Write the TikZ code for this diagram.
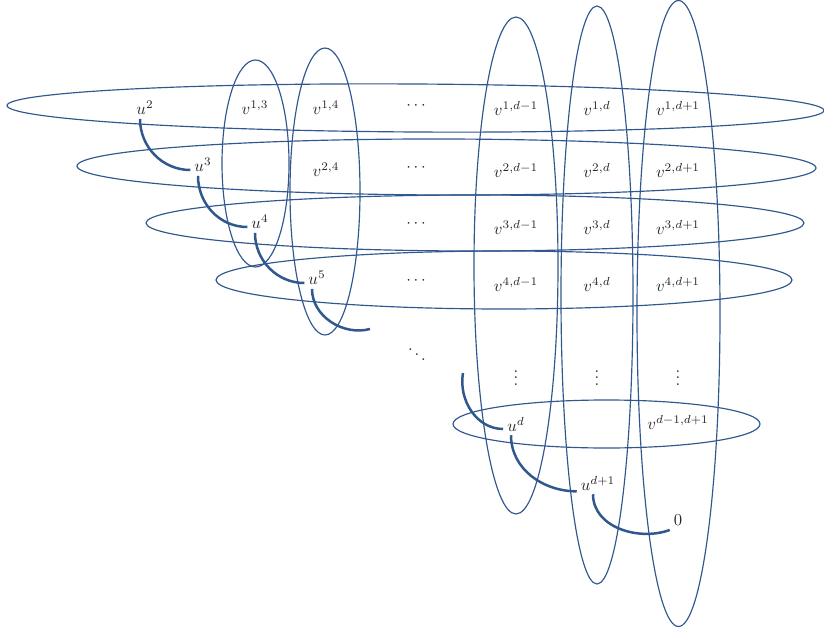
\documentclass[tikz,border=0pt]{standalone}
\begin{document}
\begin{tikzpicture}[x=0.6pt,y=0.6pt,
  ecol/.style={draw=blue!45!black!70!cyan!80, line width=0.65pt},
  arc/.style={draw=ecolor, line width=1.5pt},
  lab/.style={inner sep=0pt, outer sep=2.5pt, text=black!85}]
\definecolor{ecolor}{RGB}{49,88,142}
\tikzset{ell/.style={draw=ecolor, line width=0.7pt}}
\useasboundingbox (0,0) rectangle (824,-635);
% row ellipses
\draw[ell, rotate around={-0.35:(415.5,-108)}] (415.5,-108) ellipse [x radius=408.5*0.6pt, y radius=24*0.6pt];
\draw[ell, rotate around={-0.15:(446.5,-167)}] (446.5,-167) ellipse [x radius=369.5*0.6pt, y radius=28*0.6pt];
\draw[ell] (475,-223) ellipse [x radius=329*0.6pt, y radius=28*0.6pt];
\draw[ell] (504,-280) ellipse [x radius=288*0.6pt, y radius=29*0.6pt];
\draw[ell] (606.5,-424) ellipse [x radius=153.5*0.6pt, y radius=24*0.6pt];
% column ellipses
\draw[ell] (255.5,-163.5) ellipse [x radius=33.5*0.6pt, y radius=103.5*0.6pt];
\draw[ell] (325,-191.5) ellipse [x radius=35*0.6pt, y radius=143.5*0.6pt];
\draw[ell] (516,-265.5) ellipse [x radius=42*0.6pt, y radius=248.5*0.6pt];
\draw[ell] (597,-295) ellipse [x radius=36*0.6pt, y radius=289*0.6pt];
\draw[ell] (678.5,-313.5) ellipse [x radius=41.5*0.6pt, y radius=313*0.6pt];
% labels
\node[lab] (u2) at (145,-108) {$u^2$};
\node[lab] (v13) at (255,-108) {$v^{1,3}$};
\node[lab] (v14) at (326,-108) {$v^{1,4}$};
\node[lab] (c1) at (416,-106) {$\cdots$};
\node[lab] (v1a) at (516,-108) {$v^{1,d-1}$};
\node[lab] (v1b) at (597,-108) {$v^{1,d}$};
\node[lab] (v1c) at (678,-108) {$v^{1,d+1}$};
\node[lab] (u3) at (203,-165) {$u^3$};
\node[lab] (v24) at (326,-170) {$v^{2,4}$};
\node[lab] (c2) at (416,-168) {$\cdots$};
\node[lab] (v2a) at (516,-170) {$v^{2,d-1}$};
\node[lab] (v2b) at (597,-170) {$v^{2,d}$};
\node[lab] (v2c) at (678,-170) {$v^{2,d+1}$};
\node[lab] (u4) at (260,-222) {$u^4$};
\node[lab] (c3) at (416,-224) {$\cdots$};
\node[lab] (v3a) at (516,-227) {$v^{3,d-1}$};
\node[lab] (v3b) at (597,-227) {$v^{3,d}$};
\node[lab] (v3c) at (678,-227) {$v^{3,d+1}$};
\node[lab] (u5) at (317,-278) {$u^5$};
\node[lab] (c4) at (416,-281) {$\cdots$};
\node[lab] (v4a) at (516,-284) {$v^{4,d-1}$};
\node[lab] (v4b) at (597,-284) {$v^{4,d}$};
\node[lab] (v4c) at (678,-284) {$v^{4,d+1}$};
\node[lab] (dd) at (417,-350) {$\ddots$};
\node[lab] (vd1) at (516,-373) {$\vdots$};
\node[lab] (vd2) at (597,-373) {$\vdots$};
\node[lab] (vd3) at (678,-373) {$\vdots$};
\node[lab] (ud) at (516,-424) {$u^d$};
\node[lab] (vdd) at (678,-422) {$v^{d-1,d+1}$};
\node[lab] (ud1) at (598,-483) {$u^{d+1}$};
\node[lab] (zero) at (678,-520) {$0$};
\coordinate (f1) at (370,-329);
\coordinate (f2) at (463,-373);
% arcs
\draw[arc] ([xshift=-3]u2.south) to[out=-90,in=180] ([yshift=-3]u3.west);
\draw[arc] ([xshift=-3]u3.south) to[out=-90,in=180] ([yshift=-3]u4.west);
\draw[arc] ([xshift=-3]u4.south) to[out=-90,in=180] ([yshift=-3]u5.west);
\draw[arc] ([xshift=-3]u5.south) to[out=-90,in=195] (f1);
\draw[arc] (f2) to[out=-100,in=180] ([yshift=-3]ud.west);
\draw[arc] ([xshift=-3]ud.south) to[out=-90,in=180] ([yshift=-5]ud1.west);
\draw[arc] ([xshift=-3]ud1.south) to[out=-90,in=200] ([yshift=-6]zero.west);
\end{tikzpicture}
\end{document}
